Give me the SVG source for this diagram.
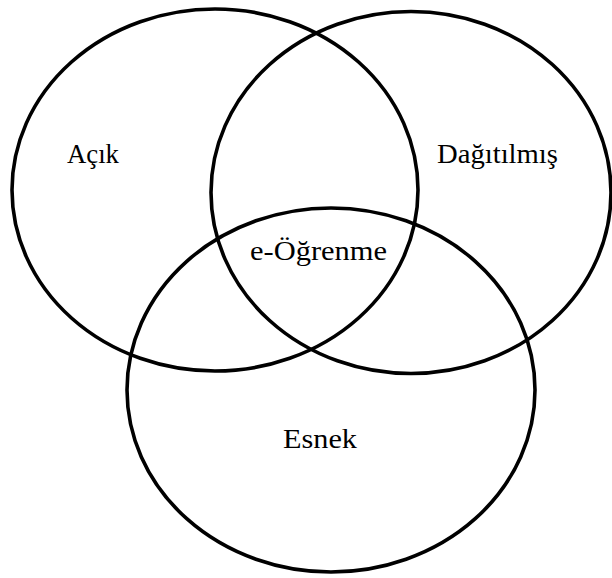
<svg xmlns="http://www.w3.org/2000/svg" width="612" height="578" viewBox="0 0 612 578">
<style>
.c{fill:none;stroke:#000;stroke-width:3.6}
.t{font-family:"Liberation Serif","Times New Roman",serif;font-size:28px;fill:#000}
</style>
<rect width="612" height="578" fill="#fff"/>
<g id="acik">
<ellipse class="c" cx="215" cy="190" rx="203" ry="181"/>
<text class="t" x="67" y="163" textLength="52" lengthAdjust="spacingAndGlyphs">Açık</text>
</g>
<g id="dagitilmis">
<ellipse class="c" cx="411" cy="192.5" rx="200" ry="181"/>
<text class="t" x="437" y="163" textLength="121" lengthAdjust="spacingAndGlyphs">Dağıtılmış</text>
</g>
<g id="esnek">
<ellipse class="c" cx="331" cy="390" rx="204" ry="182"/>
<text class="t" x="283" y="448" textLength="74" lengthAdjust="spacingAndGlyphs">Esnek</text>
</g>
<g id="e-ogrenme">
<text class="t" x="250" y="260" textLength="137" lengthAdjust="spacingAndGlyphs">e-Öğrenme</text>
</g>
<g id="connectors"/>
</svg>
